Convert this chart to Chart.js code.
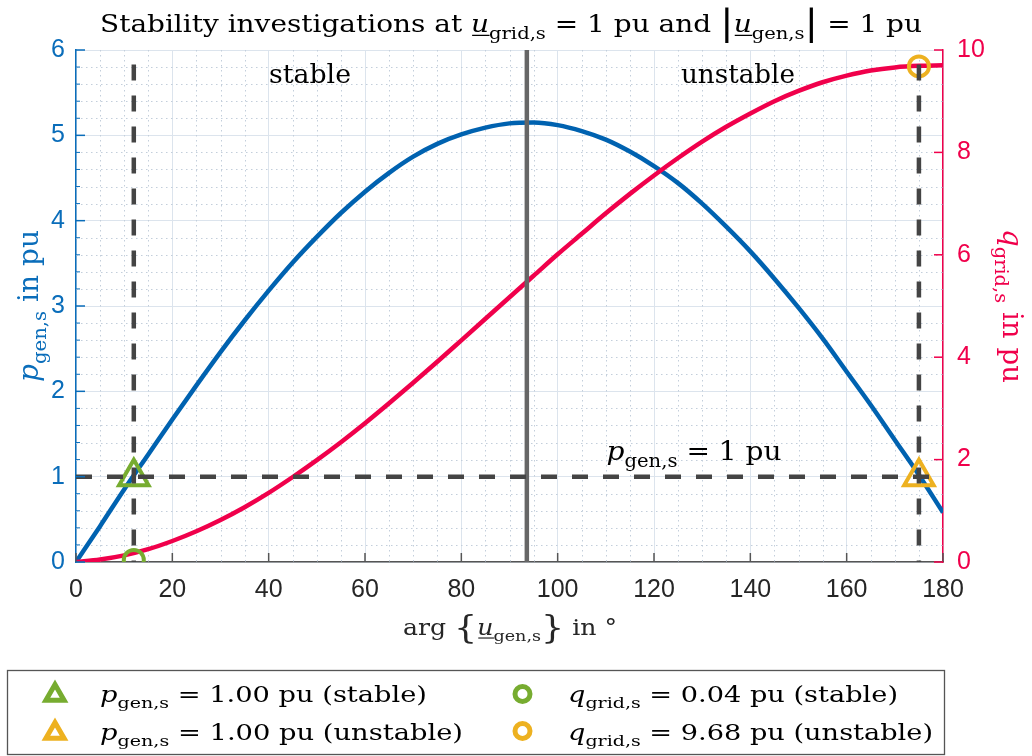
<!DOCTYPE html>
<html><head><meta charset="utf-8">
<script src="https://cdn.jsdelivr.net/npm/chart.js@4/dist/chart.umd.min.js"></script>
<style>html,body{margin:0;padding:0;background:#fff;}canvas{display:block;}</style>
</head><body>
<canvas id="c" width="1032" height="756"></canvas>
<script>
// ---------------- data ----------------
const angles = [0,5,10,15,20,25,30,35,40,45,50,55,60,65,70,75,80,85,90,95,100,105,110,115,120,125,130,135,140,145,150,155,160,165,170,175,180];
const pGen = [0,0.42,0.85,1.26,1.67,2.07,2.46,2.83,3.18,3.51,3.81,4.09,4.34,4.56,4.75,4.90,5.01,5.09,5.14,5.15,5.12,5.05,4.95,4.81,4.64,4.44,4.20,3.93,3.64,3.32,2.98,2.62,2.23,1.84,1.43,1.02,0.58];
const qGrid = [0,0.05,0.13,0.25,0.41,0.60,0.82,1.07,1.35,1.66,1.99,2.34,2.71,3.10,3.50,3.91,4.33,4.75,5.17,5.59,6.01,6.41,6.81,7.19,7.55,7.89,8.21,8.50,8.76,9.00,9.20,9.37,9.50,9.60,9.66,9.69,9.70];
const xTicks = [0,20,40,60,80,100,120,140,160,180];
const pTicks = [0,1,2,3,4,5,6];
const qTicks = [0,2,4,6,8,10];
const stableAngle = 12, unstableAngle = 175, limitAngle = 93.6;
const pRef = 1;
const pStable = 1.00, pUnstable = 1.00, qStable = 0.04, qUnstable = 9.68;
const dashTop = 5.83;

// ---------------- styles ----------------
const BLUE_LINE = '#0062B0', BLUE_TXT = '#0A6DBA', RED = '#F0004B', GREEN = '#77AC30', ORANGE = '#EDB120';
const DASH = '#444444', SOLID = '#666666', GRID = '#dce4ed', MINOR = '#c3cedb';
const SERIF = '"DejaVu Serif", serif';
const SANS = '"Liberation Sans", Arial, sans-serif';

function fontStr(t, sz){ return ((t==='i'||t==='u')?'italic ':'') + sz + 'px ' + SERIF; }
function partSize(t, size){ return t==='s' ? size*0.7 : (t==='big' ? size*1.45 : size); }
function partDy(t, size){ return t==='s' ? size*0.28 : (t==='big' ? size*0.12 : 0); }
function drawRich(ctx, parts, x, y, size, color, align, targetW){
  let w = 0; const items = [];
  for (const [t,s] of parts){
    const sz = partSize(t,size);
    ctx.font = fontStr(t, sz);
    const mw = ctx.measureText(s).width;
    items.push({t,s,sz,x:w,w:mw}); w += mw;
  }
  let sx = targetW ? targetW / w : 1;
  sx = Math.max(0.75, Math.min(1.3, sx));
  const total = w*sx;
  const x0 = align==='center' ? x-total/2 : (align==='right' ? x-total : x);
  ctx.save();
  ctx.translate(x0, y); ctx.scale(sx, 1);
  ctx.fillStyle = color; ctx.textAlign = 'left'; ctx.textBaseline = 'alphabetic';
  for (const it of items){
    ctx.font = fontStr(it.t, it.sz);
    ctx.fillText(it.s, it.x, partDy(it.t, size));
    if (it.t==='u') ctx.fillRect(it.x + size*0.04, size*0.11, it.w - size*0.02, Math.max(1.2, size*0.05));
  }
  ctx.restore();
}

function triPath(ctx, cx, cy, r){
  ctx.beginPath();
  for (let k=0;k<3;k++){
    const a = -Math.PI/2 + k*2*Math.PI/3;
    const px = cx + r*Math.cos(a), py = cy + r*Math.sin(a);
    k ? ctx.lineTo(px,py) : ctx.moveTo(px,py);
  }
  ctx.closePath();
}

const decor = {
  id: 'decor',
  beforeDatasetsDraw(chart){
    const {ctx, chartArea:a, scales:{x,y}} = chart;
    ctx.save();
    ctx.strokeStyle = MINOR; ctx.lineWidth = 1; ctx.setLineDash([1.5,3.5]);
    for (let v=5; v<180; v+=5){
      if (v%20===0) continue;
      const px = Math.round(x.getPixelForValue(v))+0.5;
      ctx.beginPath(); ctx.moveTo(px,a.top); ctx.lineTo(px,a.bottom); ctx.stroke();
    }
    for (let i=1;i<30;i++){
      if (i%5===0) continue;
      const py = Math.round(y.getPixelForValue(i*0.2))+0.5;
      ctx.beginPath(); ctx.moveTo(a.left,py); ctx.lineTo(a.right,py); ctx.stroke();
    }
    ctx.restore();
  },
  afterDatasetsDraw(chart){
    const {ctx, chartArea:a, scales:{x,y,y1}} = chart;
    ctx.save(); ctx.lineWidth = 1.5; ctx.setLineDash([]);
    ctx.strokeStyle = '#555555';
    for (const v of xTicks){ const px=x.getPixelForValue(v); ctx.beginPath(); ctx.moveTo(px,a.bottom); ctx.lineTo(px,a.bottom-9); ctx.stroke(); }
    ctx.strokeStyle = BLUE_TXT;
    for (const v of pTicks){ const py=y.getPixelForValue(v); ctx.beginPath(); ctx.moveTo(a.left,py); ctx.lineTo(a.left+9,py); ctx.stroke(); }
    ctx.lineWidth = 1;
    for (let i=1;i<30;i++){ if(i%5===0) continue; const py=y.getPixelForValue(i*0.2); ctx.beginPath(); ctx.moveTo(a.left,py); ctx.lineTo(a.left+4,py); ctx.stroke(); }
    ctx.lineWidth = 1.5; ctx.strokeStyle = RED;
    for (const v of qTicks){ const py=y1.getPixelForValue(v); ctx.beginPath(); ctx.moveTo(a.right,py); ctx.lineTo(a.right-9,py); ctx.stroke(); }
    ctx.restore();
  },
  afterDraw(chart){
    const {ctx} = chart;
    // title
    drawRich(ctx, [['r','Stability investigations at '],['u','u'],['s','grid,s'],['r',' = 1 pu and '],['big','|'],['u','u'],['s','gen,s'],['big','|'],['r',' = 1 pu']], 511, 32, 25, '#000', 'center', 822);
    // region annotations
    drawRich(ctx, [['r','stable']], 310, 83, 26, '#000', 'center', 82);
    drawRich(ctx, [['r','unstable']], 738, 83, 26, '#000', 'center', 114);
    drawRich(ctx, [['i','p'],['s','gen,s'],['r',' = 1 pu']], 694, 460, 26, '#000', 'center', 175);
    // x label
    drawRich(ctx, [['r','arg '],['big','{'],['u','u'],['s','gen,s'],['big','}'],['r',' in °']], 510, 635, 22, '#262626', 'center', 214);
    // y labels
    ctx.save(); ctx.translate(38, 306); ctx.rotate(-Math.PI/2);
    drawRich(ctx, [['i','p'],['s','gen,s'],['r',' in pu']], 0, 0, 27, BLUE_TXT, 'center', 152);
    ctx.restore();
    ctx.save(); ctx.translate(1003, 306); ctx.rotate(Math.PI/2);
    drawRich(ctx, [['i','q'],['s','grid,s'],['r',' in pu']], 0, 0, 27, RED, 'center', 154);
    ctx.restore();
    // legend
    ctx.save();
    ctx.fillStyle = '#fff'; ctx.fillRect(7.5, 670.5, 937, 84);
    ctx.strokeStyle = '#555'; ctx.lineWidth = 1.3; ctx.strokeRect(7.5, 670.5, 937, 84);
    ctx.lineWidth = 5; ctx.lineJoin = 'miter';
    ctx.strokeStyle = GREEN; triPath(ctx, 55, 695, 10.5); ctx.stroke();
    ctx.strokeStyle = ORANGE; triPath(ctx, 55, 733, 10.5); ctx.stroke();
    ctx.lineWidth = 5;
    ctx.strokeStyle = GREEN; ctx.beginPath(); ctx.arc(522.5, 694, 7.5, 0, 2*Math.PI); ctx.stroke();
    ctx.strokeStyle = ORANGE; ctx.beginPath(); ctx.arc(522.5, 731, 7.5, 0, 2*Math.PI); ctx.stroke();
    ctx.restore();
    drawRich(ctx, [['i','p'],['s','gen,s'],['r',' = '+pStable.toFixed(2)+' pu (stable)']], 100, 702, 22, '#000', 'left', 327);
    drawRich(ctx, [['i','p'],['s','gen,s'],['r',' = '+pUnstable.toFixed(2)+' pu (unstable)']], 100, 740, 22, '#000', 'left', 363);
    drawRich(ctx, [['i','q'],['s','grid,s'],['r',' = '+qStable.toFixed(2)+' pu (stable)']], 568, 702, 22, '#000', 'left', 330);
    drawRich(ctx, [['i','q'],['s','grid,s'],['r',' = '+qUnstable.toFixed(2)+' pu (unstable)']], 568, 740, 22, '#000', 'left', 365);
  }
};

const lineDs = (label, data, color, width, axis, dash) => ({
  label, data, showLine:true, borderColor:color, backgroundColor:color, borderWidth:width,
  pointRadius:0, yAxisID:axis, borderDash:dash||[], tension:0, fill:false, borderCapStyle:'butt'
});
const markDs = (label, pt, style, color, axis, r) => ({
  label, data:[pt], showLine:false, pointStyle:style, pointRadius:r, pointBorderWidth:4,
  pointBorderColor:color, pointBackgroundColor:'rgba(0,0,0,0)', borderColor:color, yAxisID:axis
});

const pCurve = angles.map((a,i)=>({x:a, y:pGen[i]}));
const qCurve = angles.map((a,i)=>({x:a, y:qGrid[i]}));

new Chart(document.getElementById('c'), {
  type: 'scatter',
  data: { datasets: [
    lineDs('stable limit', [{x:stableAngle,y:dashTop},{x:stableAngle,y:0}], DASH, 4.5, 'y', [16,15]),
    lineDs('unstable limit', [{x:unstableAngle,y:dashTop},{x:unstableAngle,y:0}], DASH, 4.5, 'y', [16,15]),
    lineDs('p ref', [{x:0,y:pRef},{x:180,y:pRef}], DASH, 4.5, 'y', [16,15]),
    lineDs('max', [{x:limitAngle,y:0},{x:limitAngle,y:6}], SOLID, 4.5, 'y'),
    markDs('p stable', {x:stableAngle,y:pStable}, 'triangle', GREEN, 'y', 17),
    markDs('p unstable', {x:unstableAngle,y:pUnstable}, 'triangle', ORANGE, 'y', 17),
    markDs('q stable', {x:stableAngle,y:qStable}, 'circle', GREEN, 'y1', 10),
    markDs('q unstable', {x:unstableAngle,y:qUnstable}, 'circle', ORANGE, 'y1', 10),
    Object.assign(lineDs('q_grid', qCurve, RED, 4.5, 'y1'), {cubicInterpolationMode:'monotone'}),
    Object.assign(lineDs('p_gen', pCurve, BLUE_LINE, 4.5, 'y'), {cubicInterpolationMode:'monotone'})
  ]},
  options: {
    responsive:false, animation:false, devicePixelRatio:1,
    layout:{padding:{top:50,left:0,right:0,bottom:0}},
    plugins:{legend:{display:false}, tooltip:{enabled:false}, title:{display:false}},
    scales:{
      x:{type:'linear', position:'bottom', min:0, max:180,
        ticks:{stepSize:20, font:{family:SANS, size:25}, color:'#262626', padding:13, maxRotation:0, autoSkip:false},
        grid:{color:GRID, lineWidth:1, drawTicks:false},
        border:{display:true, color:'#555555', width:1.5},
        afterFit(s){ s.height = 194; }
      },
      y:{type:'linear', position:'left', min:0, max:6,
        ticks:{stepSize:1, font:{family:SANS, size:25}, color:BLUE_TXT, padding:11},
        grid:{color:GRID, lineWidth:1, drawTicks:false},
        border:{display:true, color:BLUE_TXT, width:1.5},
        afterFit(s){ s.width = 76; }
      },
      y1:{type:'linear', position:'right', min:0, max:10,
        ticks:{stepSize:2, font:{family:SANS, size:25}, color:RED, padding:14},
        grid:{display:false, drawTicks:false},
        border:{display:true, color:RED, width:1.5},
        afterFit(s){ s.width = 89; }
      }
    }
  },
  plugins:[decor]
});
</script>
</body></html>
